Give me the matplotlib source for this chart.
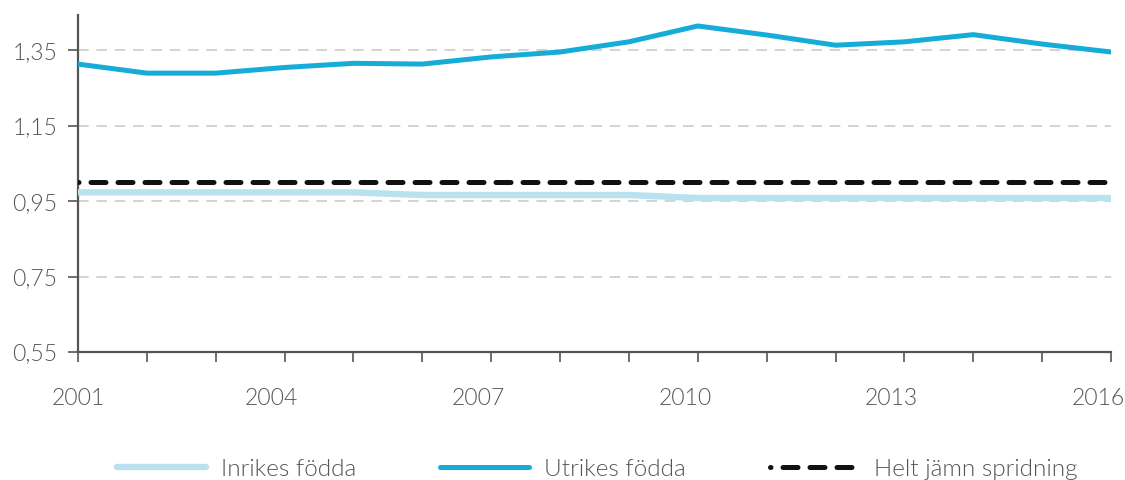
import matplotlib
matplotlib.use("Agg")
import matplotlib.pyplot as plt
from matplotlib.ticker import FuncFormatter
from matplotlib.transforms import ScaledTranslation

years = list(range(2001, 2017))
inrikes = [0.973, 0.973, 0.973, 0.973, 0.973, 0.966, 0.966, 0.966, 0.966,
           0.958, 0.958, 0.958, 0.958, 0.958, 0.958, 0.958]
utrikes = [1.313, 1.289, 1.289, 1.304, 1.315, 1.313, 1.332, 1.345, 1.372,
           1.414, 1.390, 1.363, 1.372, 1.391, 1.366, 1.345]
jamn = [1.0] * len(years)
labels = ["Inrikes födda", "Utrikes födda", "Helt jämn spridning"]
yticks = [0.55, 0.75, 0.95, 1.15, 1.35]
xlabel_years = [2001, 2004, 2007, 2010, 2013, 2016]

plt.rcParams['font.family'] = ['Lato', 'DejaVu Sans']
plt.rcParams['font.weight'] = 300
TXT = '#555555'

fig = plt.figure(figsize=(11.25, 4.8), dpi=100)
ax = fig.add_axes([0.0693, 0.2667, 0.9183, 0.7020])

ax.plot(years, inrikes, color='#b8e2ef', lw=4.6, solid_capstyle='round',
        label=labels[0], zorder=3)
ax.plot(years, utrikes, color='#16acd8', lw=3.6, solid_capstyle='round',
        label=labels[1], zorder=4)
ax.plot(years, jamn, color='#111111', lw=3.6, dash_capstyle='round',
        linestyle=(2.9, (3.0, 2.4)), label=labels[2], zorder=5)

ax.set_xlim(2001, 2016)
ax.set_ylim(0.55, 1.443)
ax.set_yticks(yticks)
ax.yaxis.set_major_formatter(FuncFormatter(lambda v, p: f"{v:.2f}".replace('.', ',')))
ax.set_xticks(years)
ax.set_xticklabels([str(y) if y in xlabel_years else '' for y in years])

for y in yticks[1:]:
    ax.axhline(y, color='#c8c8c8', lw=1.1, linestyle=(0, (7, 5)), zorder=1)

for s in ['top', 'right']:
    ax.spines[s].set_visible(False)
for s in ['left', 'bottom']:
    ax.spines[s].set_color('#555555')
    ax.spines[s].set_linewidth(1.6)

ax.tick_params(axis='y', length=7, width=1.2, color='#555555', pad=8,
               labelsize=16.5, labelcolor=TXT)
ax.tick_params(axis='x', length=7, width=1.2, color='#555555', pad=19,
               labelsize=16.5, labelcolor=TXT)

for y, lab in zip(years, ax.get_xticklabels()):
    if y != years[0]:
        lab.set_transform(lab.get_transform() +
                          ScaledTranslation(-13 / 100, 0, fig.dpi_scale_trans))

fig.legend(loc='lower center', bbox_to_anchor=(0.531, -0.045), ncol=3,
           frameon=False, fontsize=17.5, handlelength=3.66, handletextpad=0.62,
           columnspacing=3.45, labelcolor=TXT)

fig.savefig('out.png', dpi=100)
